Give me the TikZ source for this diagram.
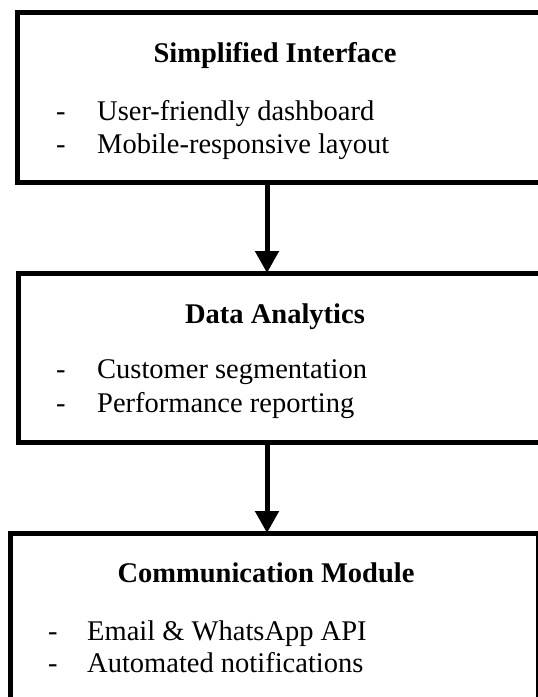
\documentclass[tikz,border=0pt]{standalone}
\usepackage{fontspec}
\setmainfont{Liberation Serif}
\usetikzlibrary{arrows.meta}
\begin{document}
\begin{tikzpicture}[x=1pt,y=-1pt,
  box/.style={draw,line width=5pt,outer sep=0pt,inner sep=0pt,anchor=north west},
  title/.style={anchor=base,inner sep=0pt,font=\fontsize{28.5}{33}\selectfont\bfseries},
  item/.style={anchor=base west,inner sep=0pt,font=\fontsize{28.5}{33}\selectfont},
  arr/.style={line width=5pt,-{Triangle[length=22pt,width=23pt]}}]
\useasboundingbox (0,0) rectangle (538,697);
\clip (0,0) rectangle (538,697);

\node[box,minimum width=560pt,minimum height=170pt] (si) at (17.5,12.5) {};
\node[box,minimum width=560pt,minimum height=169pt] (da) at (18.5,273) {};
\node[box,minimum width=528pt,minimum height=200pt] (cm) at (10,533) {};

\coordinate (ax) at (267,0);
\draw[arr] (ax |- si.south) -- (ax |- da.north);
\draw[arr] (ax |- da.south) -- (ax |- cm.north);

\node[title] (t1) at (275,62) {Simplified Interface};
\node[item] (d11) at (56,120) {-};
\node[item] (i11) at (97,120) {User-friendly dashboard};
\node[item] (d12) at (56,153) {-};
\node[item] (i12) at (97,153) {Mobile-responsive layout};

\node[title] (t2) at (275,323) {Data Analytics};
\node[item] (d21) at (56,378) {-};
\node[item] (i21) at (97,378) {Customer segmentation};
\node[item] (d22) at (56,412) {-};
\node[item] (i22) at (97,412) {Performance reporting};

\node[title] (t3) at (266,582) {Communication Module};
\node[item] (d31) at (48,640) {-};
\node[item] (i31) at (87,640) {Email \& WhatsApp API};
\node[item] (d32) at (48,672) {-};
\node[item] (i32) at (87,672) {Automated notifications};
\end{tikzpicture}
\end{document}
